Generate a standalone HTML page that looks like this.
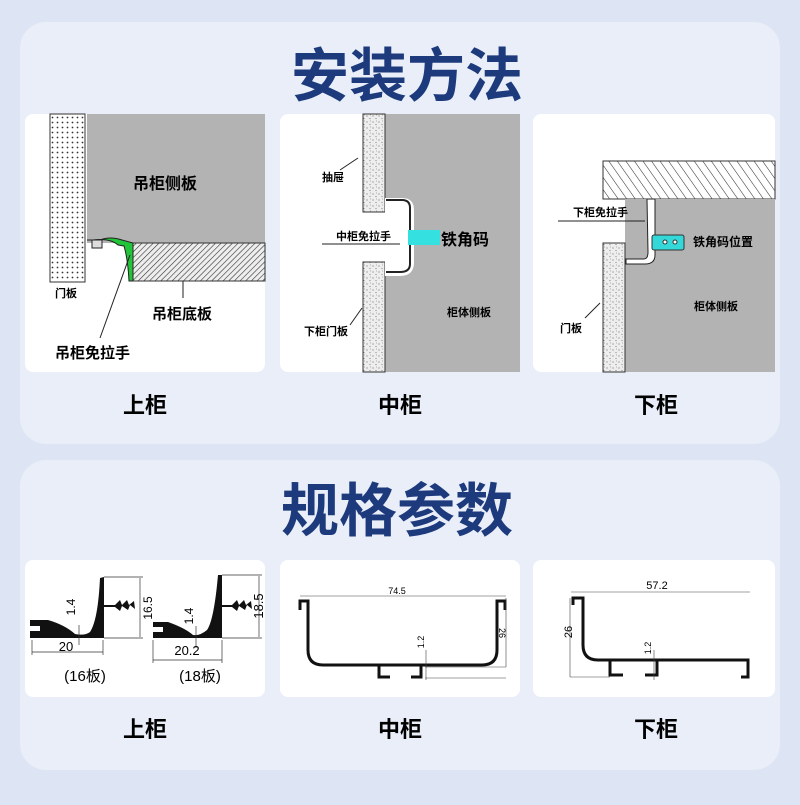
<!DOCTYPE html>
<html><head><meta charset="utf-8"><style>
body{margin:0;width:800px;height:800px;background:#dde4f3;overflow:hidden;font-family:"Liberation Sans","Noto Sans CJK SC",sans-serif}
</style></head><body>
<svg width="800" height="800" viewBox="0 0 800 800" xmlns="http://www.w3.org/2000/svg" font-family="Liberation Sans, Noto Sans CJK SC, sans-serif">
<defs>
<pattern id="dots" width="5" height="5" patternUnits="userSpaceOnUse"><rect width="5" height="5" fill="#fff"/><circle cx="2.5" cy="2.5" r="0.9" fill="#333"/></pattern>
<pattern id="spk" width="6" height="6" patternUnits="userSpaceOnUse"><rect width="6" height="6" fill="#eee"/><circle cx="1" cy="2" r="0.6" fill="#777"/><circle cx="4" cy="4.5" r="0.6" fill="#888"/><circle cx="4.5" cy="1" r="0.5" fill="#999"/></pattern>
<pattern id="hatch" width="4" height="4" patternUnits="userSpaceOnUse" patternTransform="rotate(45)"><rect width="4" height="4" fill="#eee"/><line x1="0" y1="0" x2="0" y2="4" stroke="#333" stroke-width="1.2"/></pattern>
<pattern id="hatch2" width="7" height="7" patternUnits="userSpaceOnUse" patternTransform="rotate(-35)"><rect width="7" height="7" fill="#fff"/><line x1="0" y1="0" x2="0" y2="7" stroke="#333" stroke-width="1.1"/></pattern>
</defs>
<rect x="20" y="22" width="760" height="422" rx="26" fill="#e9eef9"/>
<rect x="20" y="460" width="760" height="310" rx="26" fill="#e9eef9"/>
<text x="407" y="96" text-anchor="middle" font-size="58" font-weight="bold" fill="#1c3a7c">安装方法</text>
<text x="397" y="531" text-anchor="middle" font-size="58" font-weight="bold" fill="#1c3a7c">规格参数</text>

<!-- panel 1 -->
<rect x="25" y="114" width="240" height="258" rx="8" fill="#fff"/>
<rect x="50" y="114" width="35" height="168" fill="url(#dots)" stroke="#333"/>
<rect x="87" y="114" width="178" height="129" fill="#b3b3b3"/>
<rect x="131" y="243" width="134" height="38" fill="url(#hatch)" stroke="#333"/>
<path d="M87 240 L93 240 Q110 238 118 245 L124 246 Q128 260 129 281 L133 281 L133 243 L122 240 Q110 236 100 240 Z" fill="#22c43a" stroke="#222"/>
<rect x="92" y="240" width="10" height="8" fill="#ddd" stroke="#222"/>
<text x="133" y="189" font-size="16" font-weight="bold">吊柜侧板</text>
<text x="55" y="297" font-size="11" font-weight="bold">门板</text>
<line x1="183" y1="281" x2="183" y2="298" stroke="#222"/>
<text x="152" y="319" font-size="15" font-weight="bold">吊柜底板</text>
<line x1="100" y1="338" x2="130" y2="255" stroke="#222"/>
<text x="55" y="358" font-size="15" font-weight="bold">吊柜免拉手</text>

<!-- panel 2 -->
<rect x="280" y="114" width="240" height="258" rx="8" fill="#fff"/>
<rect x="385" y="114" width="135" height="258" fill="#b3b3b3"/>
<rect x="363" y="114" width="22" height="98" fill="url(#spk)" stroke="#333"/>
<rect x="363" y="262" width="22" height="110" fill="url(#spk)" stroke="#333"/>
<path d="M385 198 L402 198 Q414 198 414 210 L414 262 Q414 276 400 276 L385 276 Z" fill="#fff"/>
<path d="M386 200 L402 200 Q410 200 410 208 L410 264 Q410 272 400 272 L386 272" fill="none" stroke="#222" stroke-width="2"/>
<rect x="408" y="230" width="32" height="15" fill="#35e0e0"/>
<text x="322" y="181" font-size="11" font-weight="bold">抽屉</text>
<line x1="340" y1="170" x2="358" y2="158" stroke="#222"/>
<text x="336" y="240" font-size="11" font-weight="bold">中柜免拉手</text>
<line x1="322" y1="244" x2="400" y2="244" stroke="#222"/>
<text x="441" y="245" font-size="16" font-weight="bold">铁角码</text>
<text x="304" y="335" font-size="11" font-weight="bold">下柜门板</text>
<line x1="350" y1="325" x2="362" y2="308" stroke="#222"/>
<text x="447" y="316" font-size="11" font-weight="bold">柜体侧板</text>

<!-- panel 3 -->
<rect x="533" y="114" width="242" height="258" rx="8" fill="#fff"/>
<rect x="603" y="161" width="172" height="38" fill="url(#hatch2)" stroke="#333"/>
<rect x="625" y="199" width="150" height="173" fill="#b3b3b3"/>
<rect x="603" y="243" width="22" height="129" fill="url(#spk)" stroke="#333"/>
<path d="M647 199 L655 199 L655 255 Q655 264 645 264 L626 264 L626 259 L644 259 Q648 259 648 252 Z" fill="#fff" stroke="#222"/>
<rect x="652" y="235" width="32" height="15" rx="2" fill="#35d8d8" stroke="#333"/>
<circle cx="665" cy="242" r="2" fill="#fff" stroke="#333"/><circle cx="675" cy="242" r="2" fill="#fff" stroke="#333"/>
<text x="573" y="216" font-size="11" font-weight="bold">下柜免拉手</text>
<line x1="558" y1="221" x2="645" y2="221" stroke="#222"/>
<text x="693" y="246" font-size="12" font-weight="bold">铁角码位置</text>
<text x="694" y="310" font-size="11" font-weight="bold">柜体侧板</text>
<text x="560" y="332" font-size="11" font-weight="bold">门板</text>
<line x1="585" y1="318" x2="600" y2="303" stroke="#222"/>

<g font-size="22" font-weight="bold" text-anchor="middle">
<text x="145" y="413">上柜</text><text x="400" y="413">中柜</text><text x="656" y="413">下柜</text>
<text x="145" y="737">上柜</text><text x="400" y="737">中柜</text><text x="656" y="737">下柜</text>
</g>

<!-- bottom cards -->
<rect x="25" y="560" width="240" height="137" rx="8" fill="#fff"/>
<rect x="280" y="560" width="240" height="137" rx="8" fill="#fff"/>
<rect x="533" y="560" width="242" height="137" rx="8" fill="#fff"/>

<!-- 16 -->
<path d="M30 620 L48 620 Q65 625 75 634 Q85 636 90 632 Q98 620 100 578 L104 577 L104 638 L30 638 L30 631 L40 631 L40 626 L30 626 Z" fill="#111"/>
<path d="M104 605 L115 605 L120 600 L122 605 L127 600 L129 605 L134 601 L135 609 L130 605 L128 610 L122 606 L120 611 L115 607 L104 607Z" fill="#111"/>
<g stroke="#333" stroke-width="0.7" fill="none"><line x1="104" y1="577" x2="143" y2="577"/><line x1="104" y1="638" x2="143" y2="638"/><line x1="140" y1="578" x2="140" y2="637"/><line x1="32" y1="640" x2="32" y2="655"/><line x1="103" y1="640" x2="103" y2="655"/><line x1="32" y1="652" x2="103" y2="652"/><line x1="79" y1="625" x2="79" y2="645"/></g>
<text x="0" y="0" font-size="12" transform="translate(152 608) rotate(-90)" text-anchor="middle">16.5</text>
<text x="0" y="0" font-size="12" transform="translate(75 607) rotate(-90)" text-anchor="middle">1.4</text>
<text x="66" y="651" font-size="13" text-anchor="middle">20</text>
<text x="85" y="681" font-size="15" text-anchor="middle">(16板)</text>
<!-- 18 -->
<path d="M153 622 L168 622 Q185 628 193 635 Q200 636 207 630 Q214 620 218 575 L222 575 L222 638 L153 638 L153 632 L163 632 L163 627 L153 627 Z" fill="#111"/>
<path d="M222 605 L232 605 L237 600 L239 605 L244 600 L246 605 L251 601 L252 609 L247 605 L245 610 L239 606 L237 611 L232 607 L222 607Z" fill="#111"/>
<g stroke="#333" stroke-width="0.7" fill="none"><line x1="222" y1="575" x2="262" y2="575"/><line x1="222" y1="638" x2="262" y2="638"/><line x1="259" y1="576" x2="259" y2="637"/><line x1="153" y1="640" x2="153" y2="663"/><line x1="222" y1="640" x2="222" y2="663"/><line x1="153" y1="660" x2="222" y2="660"/><line x1="196" y1="626" x2="196" y2="648"/></g>
<text x="0" y="0" font-size="13" transform="translate(263 606) rotate(-90)" text-anchor="middle">18.5</text>
<text x="0" y="0" font-size="12" transform="translate(193 616) rotate(-90)" text-anchor="middle">1.4</text>
<text x="187" y="655" font-size="13" text-anchor="middle">20.2</text>
<text x="200" y="681" font-size="15" text-anchor="middle">(18板)</text>

<!-- middle -->
<g fill="none" stroke="#111" stroke-width="3">
<path d="M300 610 L300 601 L308 601 L308 650 Q308 665 323 665 L482 665 Q497 665 497 650 L497 601 L505 601 L505 610"/>
<path d="M379 665 L379 677 L390 677"/><path d="M411 677 L421 677 L421 665"/>
</g>
<g stroke="#444" stroke-width="0.6" fill="none"><line x1="300" y1="596" x2="506" y2="596"/><line x1="506" y1="598" x2="506" y2="667"/><line x1="425" y1="667" x2="506" y2="667"/><line x1="425" y1="678" x2="506" y2="678"/><line x1="426" y1="650" x2="426" y2="680"/></g>
<text x="397" y="594" font-size="9" text-anchor="middle">74.5</text>
<text x="0" y="0" font-size="9" transform="translate(499 633) rotate(90)" text-anchor="middle">26</text>
<text x="0" y="0" font-size="9" transform="translate(424 642) rotate(-90)" text-anchor="middle">1.2</text>

<!-- lower -->
<g fill="none" stroke="#111" stroke-width="3">
<path d="M573 605 L573 598 L583 598 L583 645 Q583 660 598 660 L748 660 L748 677 L741 677"/>
<path d="M610 660 L610 675 L623 675"/><path d="M645 675 L657 675 L657 660"/>
</g>
<g stroke="#444" stroke-width="0.6" fill="none"><line x1="571" y1="592" x2="750" y2="592"/><line x1="570" y1="598" x2="570" y2="677"/><line x1="570" y1="677" x2="610" y2="677"/><line x1="654" y1="650" x2="654" y2="680"/></g>
<text x="657" y="589" font-size="11" text-anchor="middle">57.2</text>
<text x="0" y="0" font-size="11" transform="translate(572 632) rotate(-90)" text-anchor="middle">26</text>
<text x="0" y="0" font-size="9" transform="translate(651 648) rotate(-90)" text-anchor="middle">1.2</text>
</svg>
</body></html>
